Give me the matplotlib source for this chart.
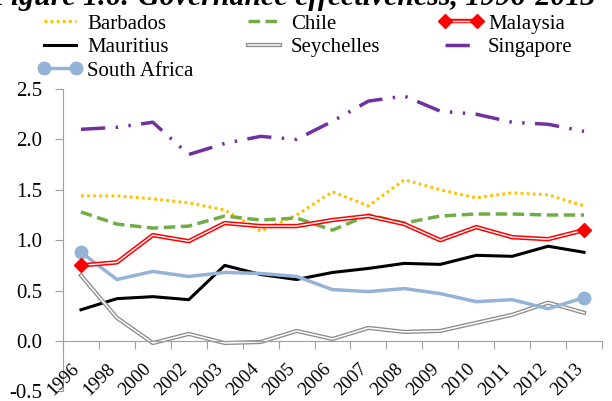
import matplotlib
matplotlib.use("Agg")
import matplotlib.pyplot as plt
import numpy as np

plt.rcParams['font.family'] = ['Liberation Serif', 'DejaVu Serif']

# Dados
anos = ["1996", "1998", "2000", "2002", "2003", "2004", "2005", "2006",
        "2007", "2008", "2009", "2010", "2011", "2012", "2013"]
barbados = [1.44, 1.44, 1.41, 1.37, 1.30, 1.09, 1.25, 1.48, 1.34, 1.60, 1.50, 1.42, 1.47, 1.45, 1.34]
chile = [1.28, 1.16, 1.12, 1.14, 1.24, 1.20, 1.22, 1.10, 1.25, 1.17, 1.24, 1.26, 1.26, 1.25, 1.25]
malaysia = [0.75, 0.78, 1.05, 0.99, 1.17, 1.14, 1.14, 1.20, 1.24, 1.16, 1.00, 1.13, 1.03, 1.01, 1.10]
mauritius = [0.31, 0.42, 0.44, 0.41, 0.75, 0.66, 0.61, 0.68, 0.72, 0.77, 0.76, 0.85, 0.84, 0.94, 0.88]
seychelles = [0.65, 0.23, -0.02, 0.07, -0.02, -0.01, 0.10, 0.02, 0.13, 0.09, 0.10, 0.18, 0.26, 0.38, 0.28]
singapore = [2.10, 2.12, 2.17, 1.85, 1.96, 2.03, 2.00, 2.18, 2.38, 2.43, 2.28, 2.25, 2.17, 2.15, 2.08]
south_africa = [0.88, 0.61, 0.69, 0.64, 0.68, 0.67, 0.64, 0.51, 0.49, 0.52, 0.47, 0.39, 0.41, 0.32, 0.43]
yticks = [-0.5, 0.0, 0.5, 1.0, 1.5, 2.0, 2.5]
titulo = "Figure 1.6: Governance effectiveness, 1996-2013"

x = np.arange(len(anos))
fim = [0, len(anos) - 1]

fig = plt.figure(figsize=(6.12, 4.01), dpi=100)
ax = fig.add_axes([63 / 612, 9.6 / 401, (602 - 63) / 612, (391.4 - 89) / 401])

h_barb, = ax.plot(x, barbados, color="#FFC000", lw=2.2, ls=(0, (0.9, 1.1)))
h_chile, = ax.plot(x, chile, color="#70AD47", lw=2.5, ls=(0, (3.3, 1.6)))
h_maur, = ax.plot(x, mauritius, color="black", lw=2.2)
h_sey1, = ax.plot(x, seychelles, color="#8C8C8C", lw=3.0)
h_sey2, = ax.plot(x, seychelles, color="white", lw=1.1)
h_sing, = ax.plot(x, singapore, color="#7030A0", lw=2.5, ls=(0, (7, 3, 0.7, 3, 0.7, 3)))
h_sa, = ax.plot(x, south_africa, color="#95B3D7", lw=2.5)
h_sam, = ax.plot(x[fim], np.array(south_africa)[fim], ls="none", marker="o",
                 ms=9, color="#95B3D7")
h_mal1, = ax.plot(x, malaysia, color="red", lw=3.2)
h_mal2, = ax.plot(x, malaysia, color="white", lw=1.0)
h_malm, = ax.plot(x[fim], np.array(malaysia)[fim], ls="none", marker="D",
                  ms=7.5, color="red")

ax.set_xlim(-0.5, (602 - 63) / 36.7 - 0.5)
ax.set_ylim(-0.5, 2.5)
ax.set_yticks(yticks)
ax.set_yticklabels(["%.1f" % v for v in yticks])

# ticks nos limites das categorias
ax.set_xticks(np.arange(len(anos) + 1) - 0.5)
ax.set_xticklabels([])
ax.tick_params(axis="x", length=6, color="#A0A0A0", direction="out")
ax.tick_params(axis="y", length=6, color="#A0A0A0", pad=9, labelsize=15)

# rótulos dos anos, inclinados, logo abaixo da linha do zero
for xi, ano in zip(x, anos):
    ax.annotate(ano, xy=(xi, 0), xytext=(1.5, -14), textcoords="offset points",
                rotation=45, rotation_mode="default", ha="right", va="top",
                fontsize=13.5, annotation_clip=False)

ax.spines["bottom"].set_position(("data", 0))
ax.spines["bottom"].set_color("#A0A0A0")
ax.spines["left"].set_color("#A0A0A0")
ax.spines["top"].set_visible(False)
ax.spines["right"].set_visible(False)

# legenda em três colunas separadas
colunas = [
    ([h_barb, h_maur, (h_sa, h_sam)], ["Barbados", "Mauritius", "South Africa"], 38),
    ([h_chile, (h_sey1, h_sey2)], ["Chile", "Seychelles"], 242),
    ([(h_mal1, h_mal2, h_malm), h_sing], ["Malaysia", "Singapore"], 439),
]
for hs, ls_, x0 in colunas:
    fig.legend(hs, ls_, loc="upper left", bbox_to_anchor=(x0 / 612, 1 - 14 / 401),
               frameon=False, fontsize=15, handlelength=2.1, handletextpad=0.25,
               labelspacing=0.19, numpoints=2, borderaxespad=0, borderpad=0)

fig.text(293 / 612, 1 - 5 / 401, titulo, ha="center", va="baseline",
         fontsize=21.5, fontweight="bold", fontstyle="italic")

fig.savefig("out.png", dpi=100)
